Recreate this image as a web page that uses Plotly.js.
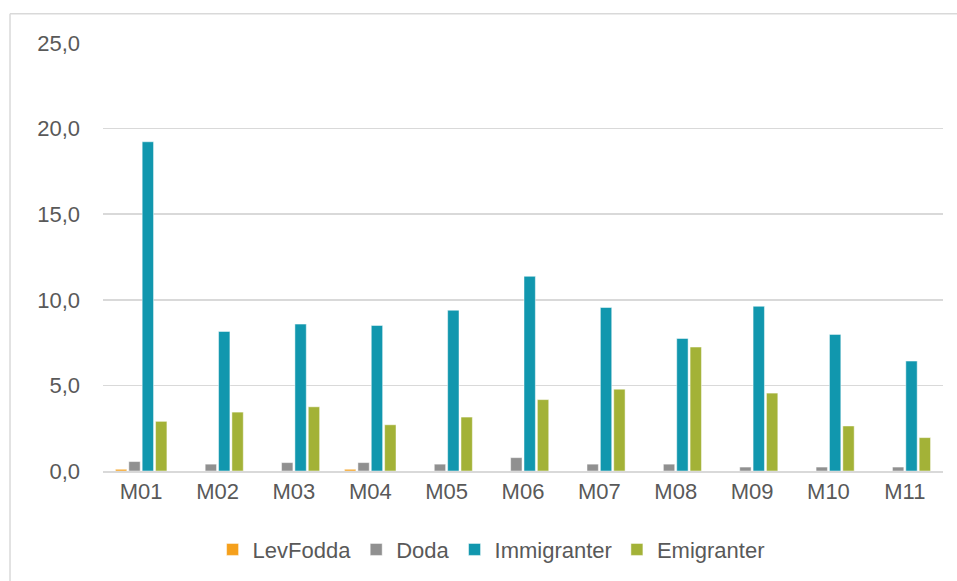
<!DOCTYPE html>
<html>
<head>
<meta charset="utf-8">
<script src="https://cdn.plot.ly/plotly-3.0.1.min.js"></script>
<style>
html,body{margin:0;padding:0;background:#fff;}
#chart{width:957px;height:581px;}
</style>
</head>
<body>
<div id="chart"></div>
<script>
const categories = ["M01","M02","M03","M04","M05","M06","M07","M08","M09","M10","M11"];
const levFodda    = [0.10, 0, 0, 0.10, 0, 0, 0, 0, 0, 0, 0];
const doda        = [0.55, 0.40, 0.49, 0.49, 0.40, 0.78, 0.40, 0.40, 0.23, 0.23, 0.23];
const immigranter = [19.23, 8.15, 8.58, 8.50, 9.39, 11.37, 9.55, 7.74, 9.62, 7.98, 6.42];
const emigranter  = [2.90, 3.44, 3.75, 2.70, 3.15, 4.17, 4.78, 7.24, 4.55, 2.63, 1.95];
const yTicks = [0, 5, 10, 15, 20, 25];
const yTickLabels = ["0,0", "5,0", "10,0", "15,0", "20,0", "25,0"];

const fontFam = 'Arial, "Liberation Sans", sans-serif';
function mk(name, y, color){
  return {type:'bar', name:name, x:categories, y:y,
    marker:{color:color, line:{color:'rgba(255,255,255,0.6)', width:0.8}},
    hoverinfo:'x+y+name'};
}
const data = [
  mk('LevFodda', levFodda, '#F5A01C'),
  mk('Doda', doda, '#909090'),
  mk('Immigranter', immigranter, '#1197AE'),
  mk('Emigranter', emigranter, '#A3B237')
];
const layout = {
  width:957, height:581,
  margin:{l:103, r:14, t:42.5, b:108.5},
  paper_bgcolor:'#fff', plot_bgcolor:'#fff',
  font:{family:fontFam, size:22, color:'#595959'},
  barmode:'group', bargap:0.3, bargroupgap:0.15,
  showlegend:true,
  legend:{orientation:'h', x:0.462, xanchor:'center', y:-0.132, yanchor:'top',
    font:{size:22, color:'#595959'}, itemclick:false, traceorder:'normal'},
  xaxis:{type:'category', showgrid:false, showline:true, linecolor:'#d9d9d9', linewidth:2,
    ticks:'', tickfont:{size:22, color:'#595959'}, fixedrange:true},
  yaxis:{range:[0,25], tickvals:yTicks, ticktext:yTickLabels, showgrid:true,
    gridcolor:'#d9d9d9', gridwidth:1.5, zeroline:false, showline:false, ticks:'',
    ticklabelstandoff:22, tickfont:{size:22, color:'#595959'}, fixedrange:true},
  shapes:[
    {type:'line', xref:'paper', yref:'paper', x0:-0.1107, x1:1.02, y0:1.0686, y1:1.0686,
      line:{color:'#d9d9d9', width:1.5}},
    {type:'line', xref:'paper', yref:'paper', x0:-0.1107, x1:-0.1107, y0:1.0686, y1:-0.26,
      line:{color:'#d9d9d9', width:1.5}}
  ]
};
Plotly.newPlot('chart', data, layout, {displayModeBar:false, staticPlot:true});
</script>
</body>
</html>
